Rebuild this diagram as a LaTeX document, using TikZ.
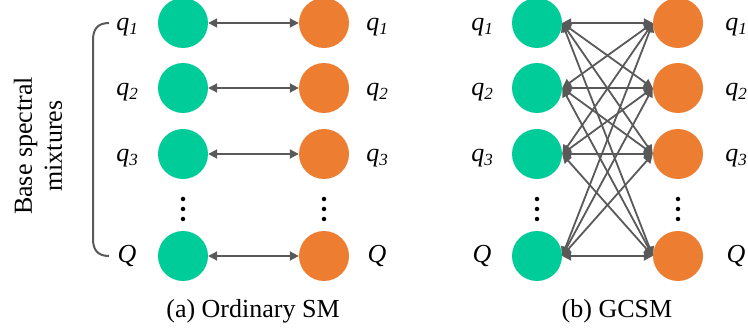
\documentclass[tikz,border=0pt]{standalone}
\usepackage{fontspec}
\setmainfont{Liberation Serif}
\usetikzlibrary{arrows.meta}
\definecolor{cgreen}{HTML}{00CC99}
\definecolor{corange}{HTML}{ED7D31}
\definecolor{cgray}{HTML}{595959}
\newcommand\qlab[1]{\textit{q\raisebox{-0.35ex}{\fontsize{17}{17}\selectfont #1}}}
\begin{document}
\begin{tikzpicture}[x=1pt,y=-1pt,
  gnode/.style={circle,fill=cgreen,minimum size=50pt,inner sep=0pt},
  onode/.style={circle,fill=corange,minimum size=50pt,inner sep=0pt},
  lab/.style={font=\fontsize{26}{30}\selectfont,inner sep=0pt},
  dotn/.style={circle,fill=black,minimum size=4.5pt,inner sep=0pt},
  link/.style={cgray,line width=1.8pt,{Triangle[length=9pt,width=9pt]}-{Triangle[length=9pt,width=9pt]}},
  brace/.style={cgray,line width=2pt}]
\useasboundingbox (0,0) rectangle (748,334);
% left panel
\foreach \n/\y in {1/23,2/88,3/154,4/256}{
  \node[gnode] (ag\n) at (183,\y) {};
  \node[onode] (ao\n) at (324,\y) {};
  \draw[link] (ag\n.east) -- (ao\n.west);
  \node[gnode] (bg\n) at (537,\y) {};
  \node[onode] (bo\n) at (678,\y) {};
}
\foreach \i in {1,2,3,4}{
  \foreach \j in {1,2,3,4}{
    \draw[link] (bg\i.east) -- (bo\j.west);
  }
}
% labels
\foreach \x/\p in {127/a,377/b,482/c,736/d}{
  \node[lab] (\p1) at (\x,27) {\qlab{1}};
  \node[lab] (\p2) at (\x,92) {\qlab{2}};
  \node[lab] (\p3) at (\x,158) {\qlab{3}};
  \node[lab] (\p4) at (\x,256) {\textit{Q}};
}
% dots
\foreach \x/\p in {183/ag,324/ao,537/bg,678/bo}{
  \node[dotn] (\p d1) at (\x,199) {};
  \node[dotn] (\p d2) at (\x,209) {};
  \node[dotn] (\p d3) at (\x,219) {};
}
% bracket
\coordinate (bt) at (109,23);
\coordinate (bb) at (109,256);
\draw[brace] (bt) .. controls (97,23) and (93,30) .. (93,40) -- (93,239) .. controls (93,249) and (97,256) .. (bb);
\node[lab,rotate=90,align=center] (side) at (38,146) {Base spectral\\mixtures};
% captions
\node[lab] (capa) at (253,311) {(a) Ordinary SM};
\node[lab] (capb) at (617,311) {(b) GCSM};
\end{tikzpicture}
\end{document}
